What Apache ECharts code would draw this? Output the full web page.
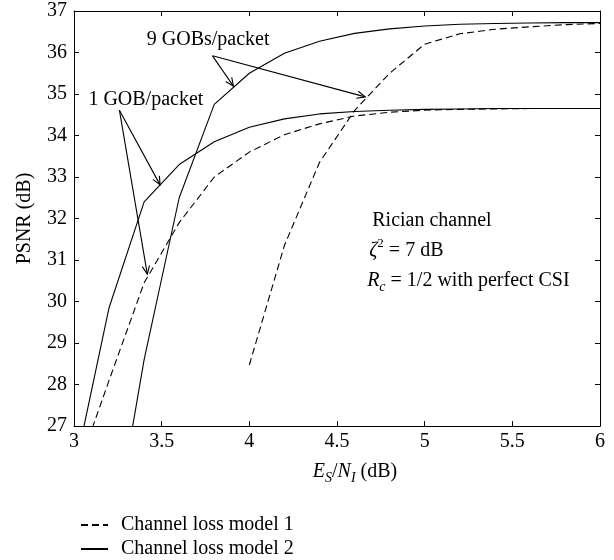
<!DOCTYPE html>
<html>
<head>
<meta charset="utf-8">
<script src="https://cdn.jsdelivr.net/npm/echarts@6/dist/echarts.min.js"></script>
<style>html,body{margin:0;padding:0;background:#fff;}#c{width:614px;height:560px;}</style>
</head>
<body>
<div id="c"></div>
<script>
// ---- data ----
const snr     = [3.0, 3.2, 3.4, 3.6, 3.8, 4.0, 4.2, 4.4, 4.6, 4.8, 5.0, 5.2, 5.4, 5.6, 5.8, 6.0];
const snrHigh = [4.0, 4.2, 4.4, 4.6, 4.8, 5.0, 5.2, 5.4, 5.6, 5.8, 6.0];
// Channel loss model 1 (dashed)
const m1Gob1  = [25.7, 28.1, 30.45, 31.9, 33.0, 33.6, 34.02, 34.28, 34.47, 34.56, 34.61, 34.63, 34.64, 34.65, 34.65, 34.65];
const m1Gob9  = [28.47, 31.35, 33.35, 34.6, 35.5, 36.2, 36.45, 36.56, 36.62, 36.67, 36.7];
// Channel loss model 2 (solid)
const m2Gob1  = [25.86, 29.85, 32.4, 33.3, 33.85, 34.2, 34.4, 34.52, 34.58, 34.61, 34.63, 34.64, 34.65, 34.65, 34.65, 34.65];
const m2Gob9  = [null, 23.7, 28.6, 32.5, 34.75, 35.5, 35.98, 36.27, 36.46, 36.57, 36.64, 36.68, 36.7, 36.71, 36.72, 36.72];
const seriesNames = ['Channel loss model 1', 'Channel loss model 2'];
const yTicks = {min: 27, max: 37, interval: 1};
const xTicks = {min: 3, max: 6, interval: 0.5};
const xTitle = '{i|E}{isub|S}{n|/}{i|N}{isub|I}{n| (dB)}';
const yTitle = 'PSNR (dB)';
// annotation arrows: [fromX, fromY, toX, toY] in data units
const arrows = [
  [3.79, 35.92, 3.909, 35.19],
  [3.79, 35.92, 4.661, 34.93],
  [3.259, 34.61, 3.491, 32.81],
  [3.259, 34.61, 3.418, 30.66]
];
// annotation texts anchored (left, middle) in data units
const notes = [
  [3.415, 36.30, '{n|9 GOBs/packet}'],
  [3.082, 34.86, '{n|1 GOB/packet}'],
  [4.701, 31.94, '{n|Rician channel}'],
  [4.684, 31.23, '{i|ζ}{sup|2}{n| = 7 dB}'],
  [4.672, 30.49, '{i|R}{isub|c}{n| = 1/2 with perfect CSI}']
];

const FONT = 'Liberation Serif';
const rich = {
  n:    {fontFamily: FONT, fontSize: 20, lineHeight: 26, color: '#000', verticalAlign: 'middle'},
  i:    {fontFamily: FONT, fontSize: 20, lineHeight: 26, color: '#000', fontStyle: 'italic', verticalAlign: 'middle'},
  isub: {fontFamily: FONT, fontSize: 14, lineHeight: 14, color: '#000', fontStyle: 'italic', verticalAlign: 'bottom'},
  sup:  {fontFamily: FONT, fontSize: 13, lineHeight: 13, color: '#000', verticalAlign: 'top'}
};

const pairs = (xs, ys) => xs.map((x, k) => [x, ys[k]]);
const lineBase = (name, data, dashed) => ({
  type: 'line', name, data, symbol: 'none', showSymbol: false, smooth: false, clip: true,
  connectNulls: false, silent: true, animation: false,
  lineStyle: {color: '#000', width: 1.1, type: dashed ? [7, 4] : 'solid'},
  itemStyle: {color: '#000'}
});

const axisCommon = {
  axisLine: {show: true, lineStyle: {color: '#000', width: 1}},
  axisTick: {show: true, inside: true, length: 5, lineStyle: {color: '#000'}},
  splitLine: {show: false}
};

const chart = echarts.init(document.getElementById('c'), null, {renderer: 'canvas'});
chart.setOption({
  animation: false,
  backgroundColor: '#fff',
  grid: {left: 74, right: 14, top: 11, bottom: 134, containLabel: false},
  xAxis: [
    Object.assign({type: 'value', position: 'bottom', min: xTicks.min, max: xTicks.max, interval: xTicks.interval,
      axisLabel: {color: '#000', fontFamily: FONT, fontSize: 20, margin: 6},
      name: xTitle, nameLocation: 'middle', nameGap: 33,
      nameTextStyle: {rich, padding: [0, 0, 0, 36]}}, axisCommon),
    Object.assign({type: 'value', position: 'top', min: xTicks.min, max: xTicks.max, interval: xTicks.interval,
      axisLabel: {show: false}}, axisCommon)
  ],
  yAxis: [
    Object.assign({type: 'value', position: 'left', min: yTicks.min, max: yTicks.max, interval: yTicks.interval,
      axisLabel: {color: '#000', fontFamily: FONT, fontSize: 20, margin: 7},
      name: yTitle, nameLocation: 'middle', nameGap: 39, nameRotate: 90,
      nameTextStyle: {color: '#000', fontFamily: FONT, fontSize: 20}}, axisCommon),
    Object.assign({type: 'value', position: 'right', min: yTicks.min, max: yTicks.max, interval: yTicks.interval,
      axisLabel: {show: false}}, axisCommon)
  ],
  legend: {
    data: seriesNames, orient: 'vertical', left: 75, top: 510, height: 120, width: 400,
    itemWidth: 27, itemHeight: 14, itemGap: 4,
    itemStyle: {color: 'rgba(0,0,0,0)', borderWidth: 0, opacity: 0},
    textStyle: {color: '#000', fontFamily: FONT, fontSize: 20, padding: [0, 0, 0, 8]},
    selectedMode: false
  },
  series: [
    lineBase(seriesNames[0], pairs(snr, m1Gob1), true),
    lineBase(seriesNames[0], pairs(snrHigh, m1Gob9), true),
    lineBase(seriesNames[1], pairs(snr, m2Gob1), false),
    lineBase(seriesNames[1], pairs(snr, m2Gob9), false),
    {
      type: 'custom', silent: true, clip: false, z: 5,
      data: arrows,
      renderItem: (params, api) => {
        const p0 = api.coord([api.value(0), api.value(1)]);
        const p1 = api.coord([api.value(2), api.value(3)]);
        const ang = Math.atan2(p1[1] - p0[1], p1[0] - p0[0]);
        const L = 9, a = 0.42;
        const h1 = [p1[0] - L * Math.cos(ang - a), p1[1] - L * Math.sin(ang - a)];
        const h2 = [p1[0] - L * Math.cos(ang + a), p1[1] - L * Math.sin(ang + a)];
        return {type: 'group', children: [
          {type: 'line', shape: {x1: p0[0], y1: p0[1], x2: p1[0], y2: p1[1]}, style: {stroke: '#000', lineWidth: 1.1}},
          {type: 'polyline', shape: {points: [h1, p1, h2]}, style: {stroke: '#000', lineWidth: 1.1, fill: null}}
        ]};
      }
    },
    {
      type: 'custom', silent: true, clip: false, z: 6,
      data: notes.map(n => [n[0], n[1]]),
      renderItem: (params, api) => {
        const p = api.coord([api.value(0), api.value(1)]);
        return {type: 'text', x: p[0], y: p[1], style: {
          text: notes[params.dataIndex][2], rich, align: 'left', verticalAlign: 'middle'
        }};
      }
    }
  ]
});
</script>
</body>
</html>
